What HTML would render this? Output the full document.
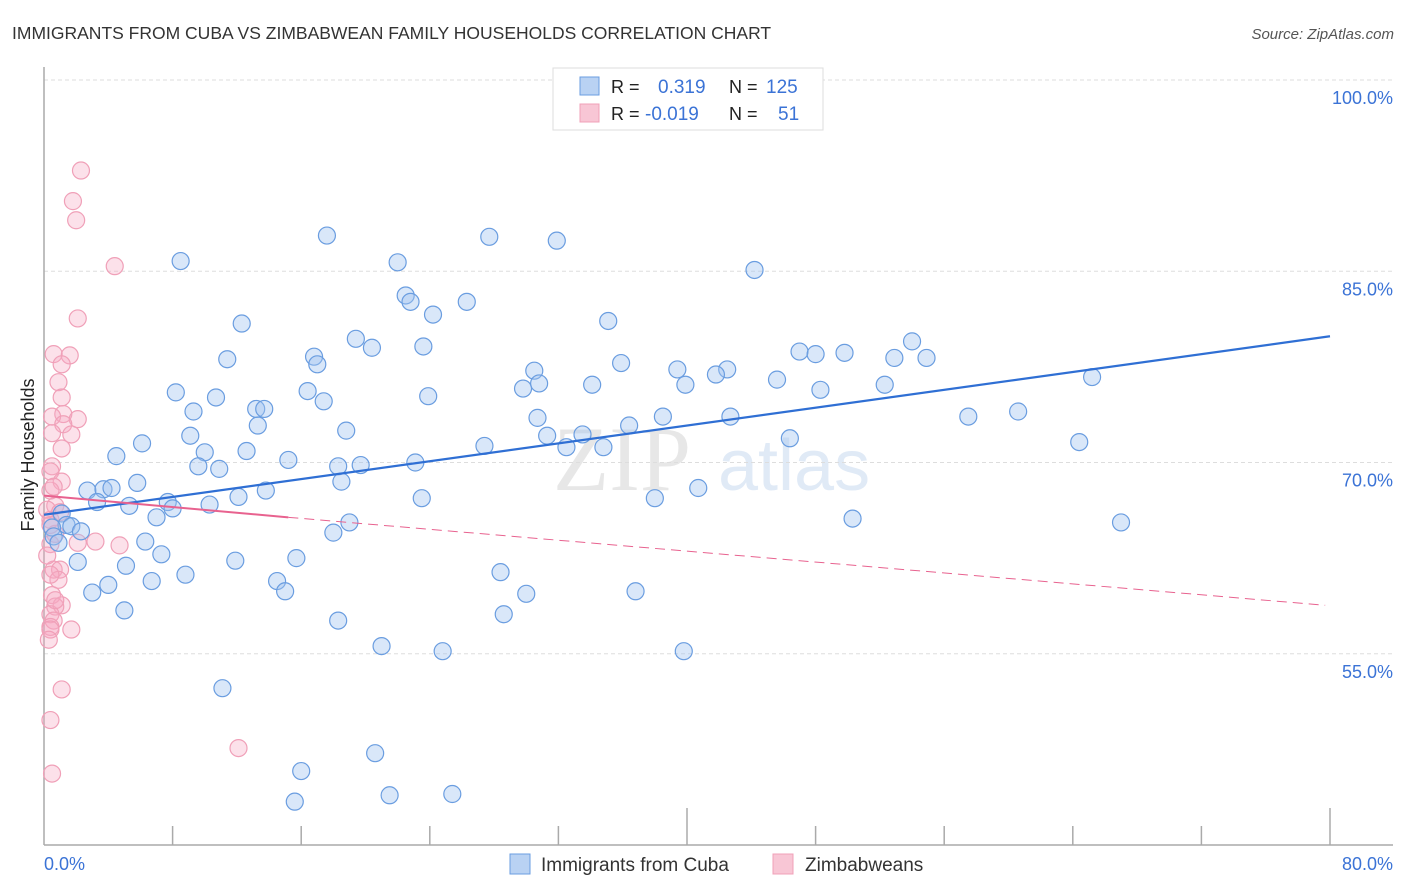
<!DOCTYPE html>
<html><head><meta charset="utf-8">
<style>
body{margin:0;background:#fff;font-family:"Liberation Sans",sans-serif;}
svg{display:block}
</style></head>
<body>
<svg id="chart" width="1406" height="892" viewBox="0 0 1406 892">
<text x="12" y="39" font-size="17.5" fill="#333">IMMIGRANTS FROM CUBA VS ZIMBABWEAN FAMILY HOUSEHOLDS CORRELATION CHART</text>
<text x="1394" y="39" font-size="15" fill="#555" font-style="italic" text-anchor="end">Source: ZipAtlas.com</text>
<g opacity="0.35">
<text x="553" y="490" font-size="92" font-family="Liberation Serif,serif" fill="#bbb">ZIP</text>
<text x="718" y="490" font-size="72" fill="#a9c4e8">atlas</text>
</g>
<g id="grid"></g>
<g id="axes"></g>
<g id="pts"></g>
<g id="trend"></g>
<text transform="translate(34,455) rotate(-90)" font-size="18" fill="#222" text-anchor="middle">Family Households</text>
<g>
<rect x="553" y="68" width="270" height="62" fill="#fff" stroke="#ddd"/>
<rect x="580" y="77" width="19" height="18" fill="#b9d2f3" stroke="#6a9de0"/>
<rect x="580" y="104" width="19" height="18" fill="#f8c6d5" stroke="#f0a0b8"/>
<text x="611" y="93" font-size="18" fill="#222">R =</text>
<text x="658" y="93" font-size="19" fill="#3b73d6">0.319</text>
<text x="729" y="93" font-size="18" fill="#222">N =</text>
<text x="766" y="93" font-size="19" fill="#3b73d6">125</text>
<text x="611" y="120" font-size="18" fill="#222">R =</text>
<text x="645" y="120" font-size="19" fill="#3b73d6">-0.019</text>
<text x="729" y="120" font-size="18" fill="#222">N =</text>
<text x="778" y="120" font-size="19" fill="#3b73d6">51</text>
</g>
<g>
<rect x="510" y="854" width="20" height="20" fill="#b9d2f3" stroke="#6a9de0"/>
<text x="541" y="871" font-size="19" fill="#333">Immigrants from Cuba</text>
<rect x="773" y="854" width="20" height="20" fill="#f8c6d5" stroke="#f0a0b8"/>
<text x="805" y="871" font-size="19" fill="#333">Zimbabweans</text>
</g>
</svg>
<script>
const yTicks=[55,70,85,100];
const yTickLabels=["55.0%","70.0%","85.0%","100.0%"];
const xTickLabels=["0.0%","80.0%"];
const cubaX=[8.5,17.6,27.7,31.9,22.0,44.2,22.5,22.8,26.3,24.2,12.3,35.1,19.4,20.4,23.6,11.4,16.8,17.0,35.9,47.0,48.0,49.8,52.9,54.9,54.0,39.4,42.5,41.8,30.5,8.2,10.7,16.4,17.4,23.9,29.8,30.8,34.1,39.9,45.6,48.3,52.3,65.2,9.3,13.2,13.7,30.7,38.5,42.7,57.5,60.6,9.1,13.3,18.8,27.4,31.3,33.5,32.5,34.8,36.4,46.4,64.4,4.5,6.1,10.0,12.6,15.2,9.6,10.9,18.3,19.7,23.1,2.7,3.7,4.2,5.8,3.3,5.3,7.7,8.0,7.0,10.3,12.1,13.8,18.5,23.5,38.0,40.7,1.1,1.4,1.7,2.3,0.5,0.6,0.9,19.0,18.0,50.3,67.0,6.3,7.3,2.1,5.1,11.9,15.7,3.0,4.0,6.7,8.8,14.5,15.0,28.4,30.0,36.8,5.0,28.6,18.3,21.0,24.8,39.8,11.1,20.6,16.0,15.6,21.5,25.4];
const cubaY=[85.8,87.8,87.7,87.4,85.7,85.1,83.1,82.6,82.6,81.6,80.9,81.1,79.7,79.0,79.1,78.1,78.3,77.7,77.8,78.7,78.5,78.6,78.2,78.2,79.5,77.3,77.3,76.9,77.2,75.5,75.1,75.6,74.8,75.2,75.8,76.2,76.1,76.1,76.5,75.7,76.1,76.7,74.0,74.2,74.2,73.5,73.6,73.6,73.6,74.0,72.1,72.9,72.5,71.3,72.1,72.2,71.2,71.2,72.9,71.9,71.6,70.5,71.5,70.8,70.9,70.2,69.7,69.5,69.7,69.8,70.0,67.8,67.9,68.0,68.4,66.9,66.6,66.9,66.4,65.7,66.7,67.3,67.8,68.5,67.2,67.2,68.0,66.0,65.1,65.0,64.6,64.9,64.2,63.7,65.3,64.5,65.6,65.3,63.8,62.8,62.2,61.9,62.3,62.5,59.8,60.4,60.7,61.2,60.7,59.9,61.4,59.7,59.9,58.4,58.1,57.6,55.6,55.2,55.2,52.3,47.2,45.8,43.4,43.9,44.0];
const zimX=[2.3,1.8,2.0,4.4,2.1,0.6,1.6,1.1,0.9,1.1,1.2,2.1,0.5,1.2,0.5,1.7,1.1,0.5,0.4,1.1,0.4,0.7,0.4,0.7,0.4,2.1,3.2,4.7,0.6,1.0,0.9,0.4,0.5,1.1,0.7,0.4,0.6,0.4,0.4,1.7,1.1,0.4,0.5,12.1,0.4,0.2,0.2,0.7,0.3,1.0,0.6];
const zimY=[92.9,90.5,89.0,85.4,81.3,78.5,78.4,77.7,76.3,75.1,73.8,73.4,73.6,73.0,72.3,72.2,71.1,69.7,69.3,68.5,67.8,66.6,65.5,64.4,63.6,63.7,63.8,63.5,61.6,61.6,60.8,61.2,59.6,58.8,58.7,58.1,57.6,57.1,56.9,56.9,52.2,49.8,45.6,47.6,65.1,66.3,62.7,59.2,56.1,66.1,68.1];
const cubaTrend=[65.9,79.9];
const zimTrend=[67.4,65.7,58.8];
const zimSolidEnd=15.2;

const NS="http://www.w3.org/2000/svg";
const X0=44,X1=1330,XMAX=80;
const sx=v=>X0+(X1-X0)*v/XMAX;
const sy=v=>80+(100-v)*12.75;
function mk(tag,attrs,parent){const e=document.createElementNS(NS,tag);for(const k in attrs)e.setAttribute(k,attrs[k]);parent.appendChild(e);return e;}
const grid=document.getElementById('grid'),axes=document.getElementById('axes'),pts=document.getElementById('pts'),trend=document.getElementById('trend');
yTicks.forEach((t,i)=>{
 const l=mk('line',{x1:X0,x2:1393,y1:sy(t),y2:sy(t),stroke:'#ddd','stroke-dasharray':'4 3'},grid);
 
 
 const tx=mk('text',{x:1393,y:sy(t)+24,'font-size':18,fill:'#3b73d6','text-anchor':'end'},axes);
 tx.textContent=yTickLabels[i];
 
 
});
const ya=mk('line',{x1:X0,x2:X0,y1:67,y2:845,stroke:'#aaa','stroke-width':1.5},axes);


const xa=mk('line',{x1:X0,x2:1393,y1:845,y2:845,stroke:'#aaa','stroke-width':1.5},axes);


for(let i=1;i<=10;i++){
 const v=i*8;const big=(i===5||i===10);
 const t=mk('line',{x1:sx(v),x2:sx(v),y1:big?808:826,y2:845,stroke:'#aaa','stroke-width':1.5},axes);
 
 
}
const xl0=mk('text',{x:44,y:870,'font-size':18,fill:'#3b73d6'},axes);xl0.textContent=xTickLabels[0];


const xl1=mk('text',{x:1393,y:870,'font-size':18,fill:'#3b73d6','text-anchor':'end'},axes);xl1.textContent=xTickLabels[1];


zimX.forEach((x,i)=>{
 const c=mk('circle',{cx:sx(x),cy:sy(zimY[i]),r:8.5,fill:'rgba(246,170,195,0.35)',stroke:'#f0a0b8','stroke-width':1.2},pts);
 
 
});
cubaX.forEach((x,i)=>{
 const c=mk('circle',{cx:sx(x),cy:sy(cubaY[i]),r:8.5,fill:'rgba(160,196,240,0.4)',stroke:'#6a9de0','stroke-width':1.2},pts);
 
 
});
const bl=mk('line',{x1:sx(0),y1:sy(cubaTrend[0]),x2:sx(80),y2:sy(cubaTrend[1]),stroke:'#2f6fd4','stroke-width':2.2},trend);


const pl=mk('line',{x1:sx(0),y1:sy(zimTrend[0]),x2:sx(zimSolidEnd),y2:sy(zimTrend[1]),stroke:'#e8628f','stroke-width':2},trend);


const pd=mk('line',{x1:sx(zimSolidEnd),y1:sy(zimTrend[1]),x2:sx(79.7),y2:sy(zimTrend[2]),stroke:'#e8628f','stroke-width':1,'stroke-dasharray':'10 6'},trend);


</script>
</body></html>
